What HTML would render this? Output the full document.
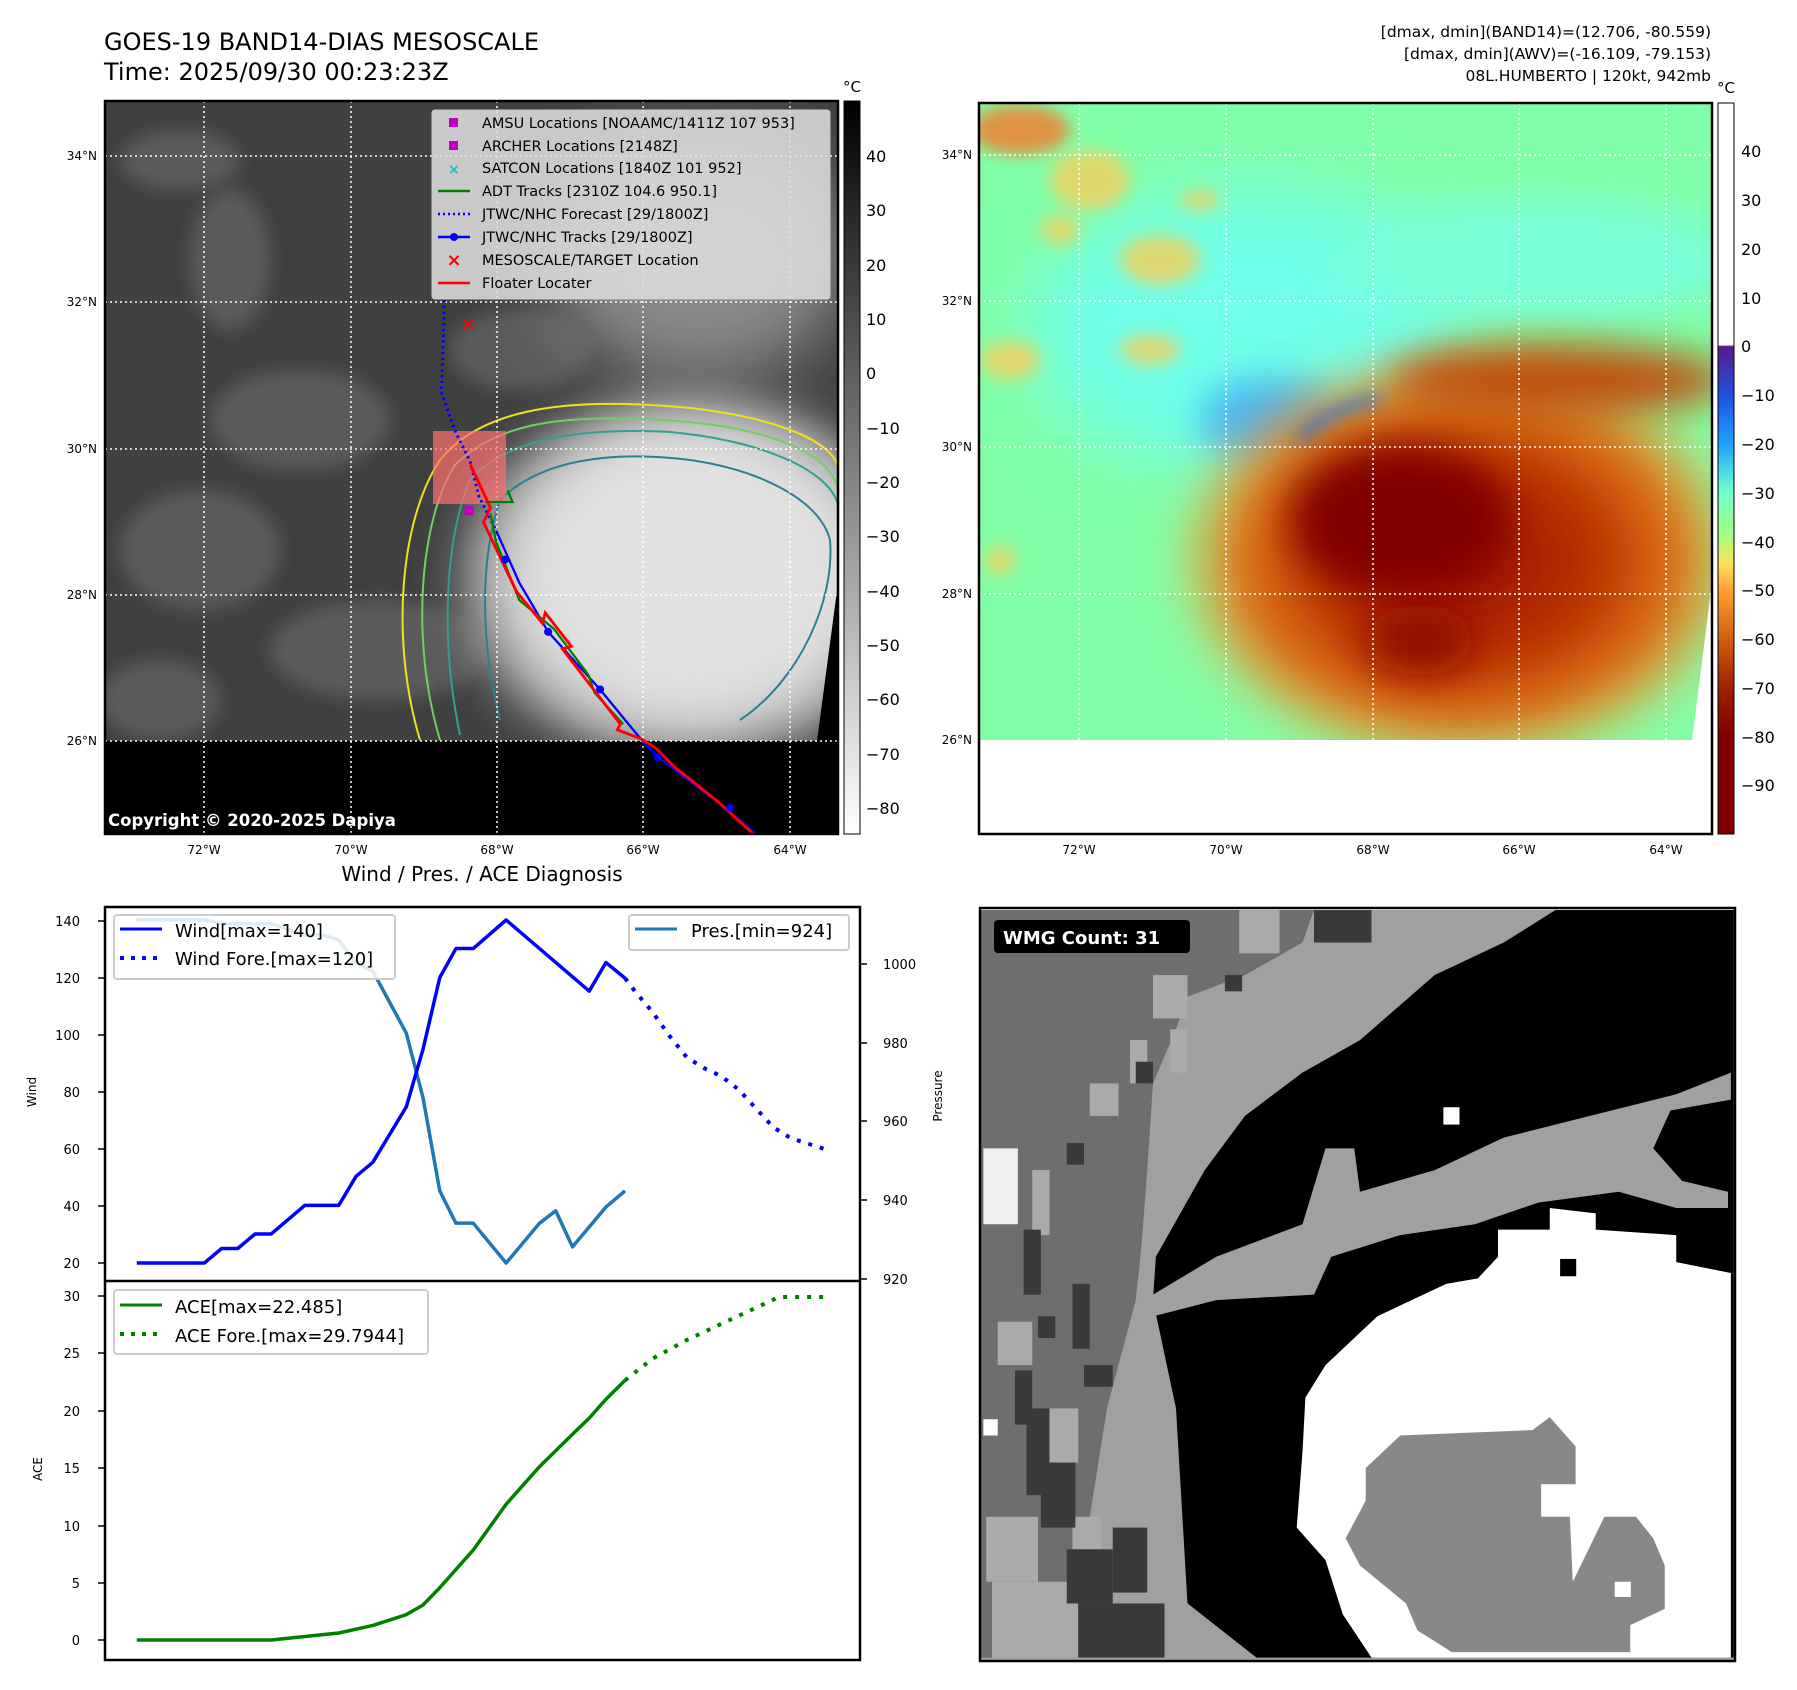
<!DOCTYPE html>
<html><head><meta charset="utf-8"><style>
html,body{margin:0;padding:0;background:#fff;}
svg{display:block;font-family:"DejaVu Sans","Liberation Sans",sans-serif;}
</style></head><body>
<svg width="1797" height="1690" viewBox="0 0 1797 1690" xmlns="http://www.w3.org/2000/svg">
<defs>
<filter id="b8" x="-50%" y="-50%" width="200%" height="200%"><feGaussianBlur stdDeviation="8"/></filter>
<filter id="b20" x="-50%" y="-50%" width="200%" height="200%"><feGaussianBlur stdDeviation="20"/></filter>
<filter id="b35" x="-50%" y="-50%" width="200%" height="200%"><feGaussianBlur stdDeviation="35"/></filter>
<linearGradient id="cbg" x1="0" y1="0" x2="0" y2="1"><stop offset="0" stop-color="#000"/><stop offset="1" stop-color="#fff"/></linearGradient>
<linearGradient id="cbc" x1="0" y1="0" x2="0" y2="1">
<stop offset="0" stop-color="#fff"/><stop offset="0.331" stop-color="#fff"/>
<stop offset="0.333" stop-color="#5a1a8a"/><stop offset="0.40" stop-color="#2050e0"/>
<stop offset="0.466" stop-color="#20a0ff"/><stop offset="0.532" stop-color="#70ffd0"/>
<stop offset="0.59" stop-color="#a0ff80"/><stop offset="0.63" stop-color="#ffe060"/>
<stop offset="0.666" stop-color="#ffa030"/><stop offset="0.733" stop-color="#d06010"/>
<stop offset="0.80" stop-color="#a02000"/><stop offset="0.866" stop-color="#800000"/><stop offset="1" stop-color="#800000"/>
</linearGradient>
<radialGradient id="storm1"><stop offset="0" stop-color="#ececec"/><stop offset="0.6" stop-color="#d4d4d4"/><stop offset="0.85" stop-color="#9a9a9a"/><stop offset="1" stop-color="#606060" stop-opacity="0"/></radialGradient>
<radialGradient id="storm2"><stop offset="0" stop-color="#9a1000"/><stop offset="0.45" stop-color="#b83000"/><stop offset="0.75" stop-color="#e07818"/><stop offset="1" stop-color="#f5c050" stop-opacity="0"/></radialGradient>
<clipPath id="cL"><rect x="105" y="101" width="733" height="733"/></clipPath>
<clipPath id="cR"><rect x="979" y="103" width="733" height="731"/></clipPath>
</defs>

<text x="104" y="50" font-size="24">GOES-19 BAND14-DIAS MESOSCALE</text>
<text x="104" y="80" font-size="24">Time: 2025/09/30 00:23:23Z</text>
<g font-size="15.5" text-anchor="end">
<text x="1711" y="37">[dmax, dmin](BAND14)=(12.706, -80.559)</text>
<text x="1711" y="59">[dmax, dmin](AWV)=(-16.109, -79.153)</text>
<text x="1711" y="81">08L.HUMBERTO | 120kt, 942mb</text>
</g>

<!-- LEFT MAP -->
<g clip-path="url(#cL)">
<rect x="105" y="101" width="733" height="733" fill="#404040"/>
<g filter="url(#b8)" fill="#626262" opacity="0.8">
<ellipse cx="180" cy="160" rx="60" ry="30"/><ellipse cx="230" cy="260" rx="40" ry="70"/>
<ellipse cx="300" cy="420" rx="90" ry="50"/><ellipse cx="200" cy="550" rx="80" ry="60"/>
<ellipse cx="520" cy="350" rx="70" ry="40"/><ellipse cx="380" cy="650" rx="110" ry="50"/>
<ellipse cx="160" cy="700" rx="60" ry="40"/>
</g>
<ellipse cx="700" cy="260" rx="150" ry="120" fill="#8a8a8a" filter="url(#b35)"/>
<ellipse cx="690" cy="580" rx="250" ry="200" fill="url(#storm1)" filter="url(#b20)"/>
<ellipse cx="690" cy="570" rx="170" ry="140" fill="#e2e2e2" filter="url(#b35)"/>
<g fill="none" stroke-width="2">
<path d="M420,740 C390,640 400,520 440,460 C480,410 560,400 650,405 C760,410 838,440 838,470" stroke="#f0e020"/>
<path d="M440,740 C410,640 420,520 455,465 C500,420 570,415 660,420 C760,425 830,450 838,490" stroke="#70d060"/>
<path d="M460,735 C440,640 445,540 470,480 C510,435 590,428 670,432 C760,440 830,470 838,505" stroke="#30a090"/>
<path d="M500,720 C480,640 480,560 500,500 C540,460 610,450 690,460 C760,470 820,500 830,540 C835,600 800,680 740,720" stroke="#2a8090"/>
</g>
</g>
<polygon points="838,583 838,741 817,741" fill="#000"/>
<rect x="105" y="741" width="733" height="93" fill="#000"/>
<g stroke="#fff" stroke-width="1.5" stroke-dasharray="2,3">
<line x1="204" y1="101" x2="204" y2="834"/><line x1="351" y1="101" x2="351" y2="834"/><line x1="497" y1="101" x2="497" y2="834"/><line x1="643" y1="101" x2="643" y2="834"/><line x1="790" y1="101" x2="790" y2="834"/>
<line x1="105" y1="156" x2="838" y2="156"/><line x1="105" y1="302" x2="838" y2="302"/><line x1="105" y1="449" x2="838" y2="449"/><line x1="105" y1="595" x2="838" y2="595"/><line x1="105" y1="741" x2="838" y2="741"/>
</g>
<rect x="433" y="431" width="73" height="73" fill="#ff7070" opacity="0.7"/>
<g transform="scale(0.577)">
<path d="M770,520 L768,600 L765,680 L790,750 L815,800 L830,860 L860,920" fill="none" stroke="#00f" stroke-width="5" stroke-dasharray="4,6"/>
<path d="M860,920 L900,1010 L950,1095 L1040,1195 L1110,1280 L1140,1312 L1250,1395 L1310,1445" fill="none" stroke="#00f" stroke-width="4"/>
<path d="M840,870 L888,870 L880,850 M850,890 L860,940 L880,990 L900,1040 L960,1090 L1020,1170 L1030,1200 L1080,1255" fill="none" stroke="#008000" stroke-width="4"/>
<path d="M815,805 L850,880 L838,905 L895,1025 L940,1080 L945,1062 L990,1120 L975,1125 L1075,1255 L1070,1265 L1110,1280 L1135,1295 L1170,1330 L1245,1390 L1305,1445" fill="none" stroke="#f00" stroke-width="5"/>
<g fill="#00f"><circle cx="875" cy="970" r="7"/><circle cx="950" cy="1095" r="7"/><circle cx="1040" cy="1195" r="7"/><circle cx="1140" cy="1312" r="7"/><circle cx="1265" cy="1400" r="7"/></g>
<rect x="805" y="877" width="16" height="16" fill="#c000c0"/>
<text x="811" y="572" font-size="30" fill="#f00" text-anchor="middle" font-weight="bold">×</text>
</g>
<rect x="432" y="110" width="398" height="189" rx="3" fill="#dcdcdc" fill-opacity="0.88" stroke="#ccc"/>
<g font-size="14.5" fill="#000">
<rect x="449" y="118" width="9" height="9" fill="#c000c0"/><text x="482" y="128">AMSU Locations [NOAAMC/1411Z 107 953]</text>
<rect x="449" y="141" width="9" height="9" fill="#c000c0"/><text x="482" y="151">ARCHER Locations [2148Z]</text>
<text x="454" y="174" fill="#20c0c0" text-anchor="middle" font-weight="bold">×</text><text x="482" y="173">SATCON Locations [1840Z 101 952]</text>
<line x1="438" y1="191" x2="470" y2="191" stroke="#008000" stroke-width="2.5"/><text x="482" y="196">ADT Tracks [2310Z 104.6 950.1]</text>
<line x1="438" y1="214" x2="470" y2="214" stroke="#00f" stroke-width="2.5" stroke-dasharray="2,3"/><text x="482" y="219">JTWC/NHC Forecast [29/1800Z]</text>
<line x1="438" y1="237" x2="470" y2="237" stroke="#00f" stroke-width="2.5"/><circle cx="454" cy="237" r="4" fill="#00f"/><text x="482" y="242">JTWC/NHC Tracks [29/1800Z]</text>
<text x="454" y="266" fill="#f00" text-anchor="middle" font-weight="bold" font-size="18">×</text><text x="482" y="265">MESOSCALE/TARGET Location</text>
<line x1="438" y1="283" x2="470" y2="283" stroke="#f00" stroke-width="2.5"/><text x="482" y="288">Floater Locater</text>
</g>
<text x="108" y="826" font-size="16.5" font-weight="bold" fill="#fff">Copyright © 2020-2025 Dapiya</text>
<rect x="105" y="101" width="733" height="733" fill="none" stroke="#000" stroke-width="2.5"/>
<rect x="844" y="101" width="16" height="733" fill="url(#cbg)" stroke="#000" stroke-width="1"/>
<text x="852" y="92" font-size="15" text-anchor="middle">°C</text>
<g font-size="16">
<text x="866" y="162">40</text><text x="866" y="216">30</text><text x="866" y="271">20</text><text x="866" y="325">10</text><text x="866" y="379">0</text><text x="866" y="434">−10</text><text x="866" y="488">−20</text><text x="866" y="542">−30</text><text x="866" y="597">−40</text><text x="866" y="651">−50</text><text x="866" y="705">−60</text><text x="866" y="760">−70</text><text x="866" y="814">−80</text>
</g>
<g font-size="12" text-anchor="end"><text x="97" y="160">34°N</text><text x="97" y="306">32°N</text><text x="97" y="453">30°N</text><text x="97" y="599">28°N</text><text x="97" y="745">26°N</text></g>
<g font-size="12" text-anchor="middle"><text x="204" y="854">72°W</text><text x="351" y="854">70°W</text><text x="497" y="854">68°W</text><text x="643" y="854">66°W</text><text x="790" y="854">64°W</text></g>

<!-- RIGHT MAP -->
<g clip-path="url(#cR)">
<rect x="979" y="103" width="733" height="637" fill="#80ffa8"/>
<ellipse cx="1250" cy="330" rx="220" ry="140" fill="#70ffe8" filter="url(#b35)"/>
<ellipse cx="1540" cy="260" rx="200" ry="60" fill="#78ffd8" filter="url(#b20)"/>
<ellipse cx="1270" cy="420" rx="70" ry="40" fill="#40b0ff" filter="url(#b20)"/>
<g filter="url(#b8)" fill="#f0d060" opacity="0.85">
<ellipse cx="1020" cy="130" rx="50" ry="25" fill="#f08030"/><ellipse cx="1090" cy="180" rx="40" ry="30"/><ellipse cx="1160" cy="260" rx="40" ry="25"/>
<ellipse cx="1010" cy="360" rx="30" ry="20"/><ellipse cx="1150" cy="350" rx="30" ry="15"/><ellipse cx="1000" cy="560" rx="15" ry="15"/>
<ellipse cx="1060" cy="230" rx="20" ry="15"/><ellipse cx="1200" cy="200" rx="20" ry="10"/>
</g>
<ellipse cx="1460" cy="560" rx="300" ry="220" fill="url(#storm2)" filter="url(#b20)"/>
<ellipse cx="1560" cy="380" rx="170" ry="35" fill="#c05010" filter="url(#b20)"/>
<ellipse cx="1400" cy="520" rx="110" ry="75" fill="#800000" filter="url(#b20)"/>
<ellipse cx="1420" cy="640" rx="55" ry="35" fill="#900800" filter="url(#b20)"/>
<path d="M1300,440 C1320,415 1350,405 1380,398" stroke="#2070e0" stroke-width="8" fill="none" filter="url(#b8)"/>
</g>
<polygon points="1712,583 1712,741 1692,741" fill="#fff"/>
<rect x="979" y="740" width="733" height="94" fill="#fff"/>
<g stroke="#fff" stroke-width="1.5" stroke-dasharray="2,3">
<line x1="1079" y1="103" x2="1079" y2="740"/><line x1="1226" y1="103" x2="1226" y2="740"/><line x1="1373" y1="103" x2="1373" y2="740"/><line x1="1519" y1="103" x2="1519" y2="740"/><line x1="1666" y1="103" x2="1666" y2="740"/>
<line x1="979" y1="155" x2="1712" y2="155"/><line x1="979" y1="301" x2="1712" y2="301"/><line x1="979" y1="447" x2="1712" y2="447"/><line x1="979" y1="594" x2="1712" y2="594"/>
</g>
<rect x="979" y="103" width="733" height="731" fill="none" stroke="#000" stroke-width="2.5"/>
<rect x="1718" y="103" width="16" height="731" fill="url(#cbc)" stroke="#000" stroke-width="1"/>
<text x="1726" y="93" font-size="15" text-anchor="middle">°C</text>
<g font-size="16">
<text x="1741" y="157">40</text><text x="1741" y="206">30</text><text x="1741" y="255">20</text><text x="1741" y="304">10</text><text x="1741" y="352">0</text><text x="1741" y="401">−10</text><text x="1741" y="450">−20</text><text x="1741" y="499">−30</text><text x="1741" y="548">−40</text><text x="1741" y="596">−50</text><text x="1741" y="645">−60</text><text x="1741" y="694">−70</text><text x="1741" y="743">−80</text><text x="1741" y="791">−90</text>
</g>
<g font-size="12" text-anchor="end"><text x="972" y="159">34°N</text><text x="972" y="305">32°N</text><text x="972" y="451">30°N</text><text x="972" y="598">28°N</text><text x="972" y="744">26°N</text></g>
<g font-size="12" text-anchor="middle"><text x="1079" y="854">72°W</text><text x="1226" y="854">70°W</text><text x="1373" y="854">68°W</text><text x="1519" y="854">66°W</text><text x="1666" y="854">64°W</text></g>

<!-- BOTTOM LEFT CHART -->
<text x="482" y="881" font-size="20" text-anchor="middle">Wind / Pres. / ACE Diagnosis</text>
<g transform="translate(0,850) scale(0.5771,0.5385)">
<g fill="none" stroke-linejoin="round">
<polyline vector-effect="non-scaling-stroke" stroke="#1f77b4" stroke-width="3.5" points="237,130 354,130 384,137 470,137 528,158 560,158 587,167 617,210 646,225 704,340 733,460 762,633 790,693 820,693 877,767 935,693 963,670 992,737 1050,663 1083,633"/>
<polyline vector-effect="non-scaling-stroke" stroke="#0000ff" stroke-width="3.5" points="237,767 354,767 384,740 412,740 442,713 470,713 528,660 587,660 617,606 646,580 704,477 733,370 762,237 790,183 820,183 877,130 1021,262 1050,209 1083,238"/>
<polyline vector-effect="non-scaling-stroke" stroke="#0000ff" stroke-width="4" stroke-dasharray="4,8" points="1083,238 1100,262 1130,300 1160,345 1190,385 1220,405 1250,420 1280,445 1310,480 1340,515 1370,535 1428,555"/>
<polyline vector-effect="non-scaling-stroke" stroke="#008000" stroke-width="3.5" points="237,1467 470,1467 587,1454 646,1440 704,1420 733,1402 762,1370 820,1300 877,1215 935,1145 992,1085 1021,1055 1050,1020 1083,985"/>
<polyline vector-effect="non-scaling-stroke" stroke="#008000" stroke-width="4" stroke-dasharray="4,8" points="1083,985 1130,945 1190,910 1250,880 1310,850 1350,830 1428,830"/>
</g>
</g>
<rect x="114" y="915" width="281" height="64" rx="3" fill="#fff" fill-opacity="0.85" stroke="#ccc" stroke-width="2"/>
<line x1="120" y1="929" x2="162" y2="929" stroke="#00f" stroke-width="3"/><text x="175" y="937" font-size="18">Wind[max=140]</text>
<line x1="120" y1="958" x2="162" y2="958" stroke="#00f" stroke-width="4" stroke-dasharray="4,7"/><text x="175" y="965" font-size="18">Wind Fore.[max=120]</text>
<rect x="629" y="915" width="220" height="35" rx="3" fill="#fff" stroke="#ccc" stroke-width="2"/>
<line x1="635" y1="929" x2="677" y2="929" stroke="#1f77b4" stroke-width="3"/><text x="691" y="937" font-size="18">Pres.[min=924]</text>
<rect x="114" y="1290" width="314" height="64" rx="3" fill="#fff" stroke="#ccc" stroke-width="2"/>
<line x1="120" y1="1305" x2="162" y2="1305" stroke="#008000" stroke-width="3"/><text x="175" y="1313" font-size="18">ACE[max=22.485]</text>
<line x1="120" y1="1334" x2="162" y2="1334" stroke="#008000" stroke-width="4" stroke-dasharray="4,7"/><text x="175" y="1342" font-size="18">ACE Fore.[max=29.7944]</text>
<rect x="105" y="907" width="755" height="753" fill="none" stroke="#000" stroke-width="2.5"/>
<line x1="105" y1="1281" x2="860" y2="1281" stroke="#000" stroke-width="2.5"/>
<g stroke="#000" stroke-width="1.5"><line x1="98" y1="921" x2="105" y2="921"/><line x1="98" y1="978" x2="105" y2="978"/><line x1="98" y1="1035" x2="105" y2="1035"/><line x1="98" y1="1092" x2="105" y2="1092"/><line x1="98" y1="1149" x2="105" y2="1149"/><line x1="98" y1="1206" x2="105" y2="1206"/><line x1="98" y1="1263" x2="105" y2="1263"/>
<line x1="98" y1="1296" x2="105" y2="1296"/><line x1="98" y1="1353" x2="105" y2="1353"/><line x1="98" y1="1411" x2="105" y2="1411"/><line x1="98" y1="1468" x2="105" y2="1468"/><line x1="98" y1="1526" x2="105" y2="1526"/><line x1="98" y1="1583" x2="105" y2="1583"/><line x1="98" y1="1640" x2="105" y2="1640"/>
<line x1="860" y1="964" x2="867" y2="964"/><line x1="860" y1="1043" x2="867" y2="1043"/><line x1="860" y1="1121" x2="867" y2="1121"/><line x1="860" y1="1200" x2="867" y2="1200"/><line x1="860" y1="1279" x2="867" y2="1279"/></g>
<g font-size="13" text-anchor="end">
<text x="80" y="926">140</text><text x="80" y="983">120</text><text x="80" y="1040">100</text><text x="80" y="1097">80</text><text x="80" y="1154">60</text><text x="80" y="1211">40</text><text x="80" y="1268">20</text>
<text x="80" y="1301">30</text><text x="80" y="1358">25</text><text x="80" y="1416">20</text><text x="80" y="1473">15</text><text x="80" y="1531">10</text><text x="80" y="1588">5</text><text x="80" y="1645">0</text>
</g>
<g font-size="13"><text x="883" y="969">1000</text><text x="883" y="1048">980</text><text x="883" y="1126">960</text><text x="883" y="1205">940</text><text x="883" y="1284">920</text></g>
<text transform="translate(36,1092) rotate(-90)" font-size="12" text-anchor="middle">Wind</text>
<text transform="translate(42,1469) rotate(-90)" font-size="12" text-anchor="middle">ACE</text>
<text transform="translate(942,1096) rotate(-90)" font-size="12" text-anchor="middle">Pressure</text>

<!-- BOTTOM RIGHT WMG -->
<g transform="translate(900,0) scale(0.5750,1.0834)">
<rect x="140" y="840" width="1310" height="692" fill="#a0a0a0"/>
<polygon fill="#000" points="1140,840 1450,840 1450,1530 620,1530 500,1480 480,1300 440,1200 445,1160 530,1080 600,1030 700,990 800,960 930,900 1050,870"/>
<polygon fill="#a0a0a0" points="440,1195 550,1160 700,1130 740,1060 790,1060 800,1100 930,1080 1050,1050 1200,1030 1350,1010 1445,990 1445,1015 1340,1025 1310,1060 1360,1090 1440,1100 1440,1115 1350,1115 1250,1100 1110,1110 1000,1130 870,1140 750,1160 720,1195 550,1200 440,1215"/>
<polygon fill="#fff" points="1040,1135 1130,1135 1130,1115 1210,1120 1210,1135 1350,1140 1350,1165 1445,1175 1445,1530 820,1530 770,1490 740,1440 690,1410 700,1340 705,1290 740,1260 800,1230 830,1215 950,1185 1005,1180 1040,1160"/>
<rect x="945" y="1022" width="28" height="16" fill="#fff"/>
<rect x="1148" y="1162" width="28" height="16" fill="#000"/>
<polygon fill="#888" points="870,1325 1100,1320 1130,1308 1175,1335 1175,1370 1115,1370 1115,1400 1165,1400 1170,1460 1225,1400 1280,1400 1310,1420 1330,1445 1330,1485 1270,1500 1270,1525 960,1525 900,1505 880,1480 800,1445 775,1420 810,1385 810,1355 840,1340"/>
<rect x="1243" y="1460" width="28" height="14" fill="#fff"/>
<polygon fill="#6e6e6e" points="140,840 720,840 700,870 600,900 500,920 480,950 440,1000 430,1080 420,1150 410,1200 360,1300 330,1400 310,1530 140,1530"/>
<g fill="#aaa"><rect x="440" y="900" width="60" height="40"/><rect x="470" y="950" width="30" height="40"/><rect x="400" y="960" width="30" height="40"/><rect x="330" y="1000" width="50" height="30"/><rect x="230" y="1080" width="30" height="60"/><rect x="170" y="1220" width="60" height="40"/><rect x="250" y="1300" width="60" height="50"/><rect x="150" y="1400" width="90" height="60"/><rect x="160" y="1460" width="150" height="70"/><rect x="590" y="840" width="70" height="40"/><rect x="300" y="1400" width="50" height="40"/></g>
<g fill="#3a3a3a"><rect x="565" y="900" width="30" height="15"/><rect x="410" y="980" width="30" height="20"/><rect x="290" y="1055" width="30" height="20"/><rect x="215" y="1135" width="30" height="60"/><rect x="300" y="1185" width="30" height="60"/><rect x="240" y="1215" width="30" height="20"/><rect x="200" y="1265" width="30" height="50"/><rect x="220" y="1300" width="40" height="80"/><rect x="245" y="1350" width="60" height="60"/><rect x="290" y="1430" width="80" height="50"/><rect x="310" y="1480" width="150" height="50"/><rect x="370" y="1410" width="60" height="60"/><rect x="720" y="840" width="100" height="30"/><rect x="320" y="1260" width="50" height="20"/></g>
<rect x="145" y="1060" width="60" height="70" fill="#f0f0f0"/>
<rect x="145" y="1310" width="25" height="15" fill="#fff"/>
</g>
<rect x="994" y="920" width="196" height="33" rx="4" fill="#000"/>
<text x="1003" y="944" font-size="18" font-weight="bold" fill="#fff">WMG Count: 31</text>
<rect x="980" y="908" width="755" height="753" fill="none" stroke="#000" stroke-width="2.5"/>
</svg>
</body></html>
